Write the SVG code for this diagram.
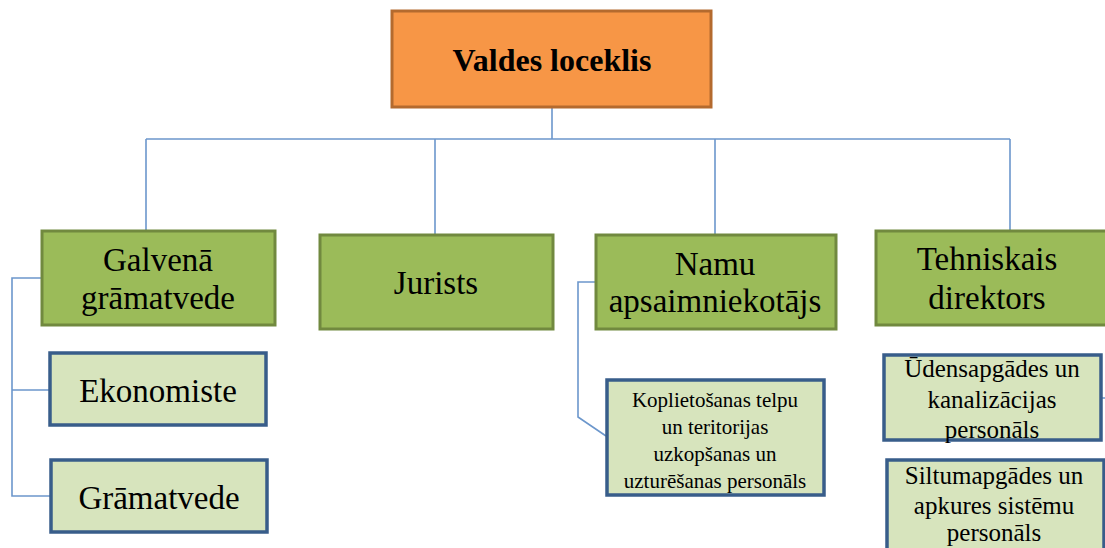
<svg xmlns="http://www.w3.org/2000/svg" width="1105" height="548" viewBox="0 0 1105 548">
<style>
.top{fill:#F79646;stroke:#B46A2E;stroke-width:3}
.mid{fill:#9BBB59;stroke:#71893F;stroke-width:3}
.low{fill:#D7E4BD;stroke:#385D8A;stroke-width:3.5}
text{font-family:'Liberation Serif','DejaVu Serif','Times New Roman',serif;fill:#000;text-anchor:middle}
.c{fill:none;stroke:#6C97CC;stroke-width:1.6}
</style>
<rect width="1105" height="548" fill="#fff"/>
<g id="connectors">
<path class="c" d="M552 107V139M146 139H1010M146 139V231M435 139V234M715 139V234M1010 139V230"/>
<path class="c" d="M41 278H12V496H50M12 390H49"/>
<path class="c" d="M595 282H578V417L606 436"/>
<path class="c" d="M1102 398H1105M1105 472H1108"/>
</g>
<g id="valdes"><rect class="top" x="392" y="11" width="319" height="96"/><text x="552" y="71" font-size="32" font-weight="bold">Valdes loceklis</text></g>
<g id="galvena"><rect class="mid" x="42" y="231" width="233" height="94"/><text x="158" y="271" font-size="33">Galvenā</text><text x="158" y="309" font-size="33">grāmatvede</text></g>
<g id="jurists"><rect class="mid" x="320" y="235" width="233" height="94"/><text x="436" y="294" font-size="33">Jurists</text></g>
<g id="namu"><rect class="mid" x="596" y="235" width="240" height="94"/><text x="715" y="275" font-size="33">Namu</text><text x="715" y="312" font-size="33">apsaimniekotājs</text></g>
<g id="tehniskais"><rect class="mid" x="876" y="231" width="235" height="94"/><text x="987" y="270" font-size="33">Tehniskais</text><text x="987" y="309" font-size="33">direktors</text></g>
<g id="ekonomiste"><rect class="low" x="50" y="353" width="216" height="72"/><text x="158" y="402" font-size="33">Ekonomiste</text></g>
<g id="gramatvede"><rect class="low" x="51" y="460" width="216" height="72"/><text x="159" y="509" font-size="33">Grāmatvede</text></g>
<g id="koplietosanas"><rect class="low" x="607" y="380" width="217" height="115"/><text x="715" y="407" font-size="21">Koplietošanas telpu</text><text x="715" y="434" font-size="21">un teritorijas</text><text x="715" y="461" font-size="21">uzkopšanas un</text><text x="715" y="488" font-size="21">uzturēšanas personāls</text></g>
<g id="udensapgades"><rect class="low" x="884" y="355" width="217" height="85"/><text x="992" y="377" font-size="25">Ūdensapgādes un</text><text x="992" y="408" font-size="25">kanalizācijas</text><text x="992" y="438" font-size="25">personāls</text></g>
<g id="siltumapgades"><rect class="low" x="887" y="460" width="217" height="100"/><text x="994" y="484" font-size="25">Siltumapgādes un</text><text x="994" y="514" font-size="25">apkures sistēmu</text><text x="994" y="541" font-size="25">personāls</text></g>
</svg>
